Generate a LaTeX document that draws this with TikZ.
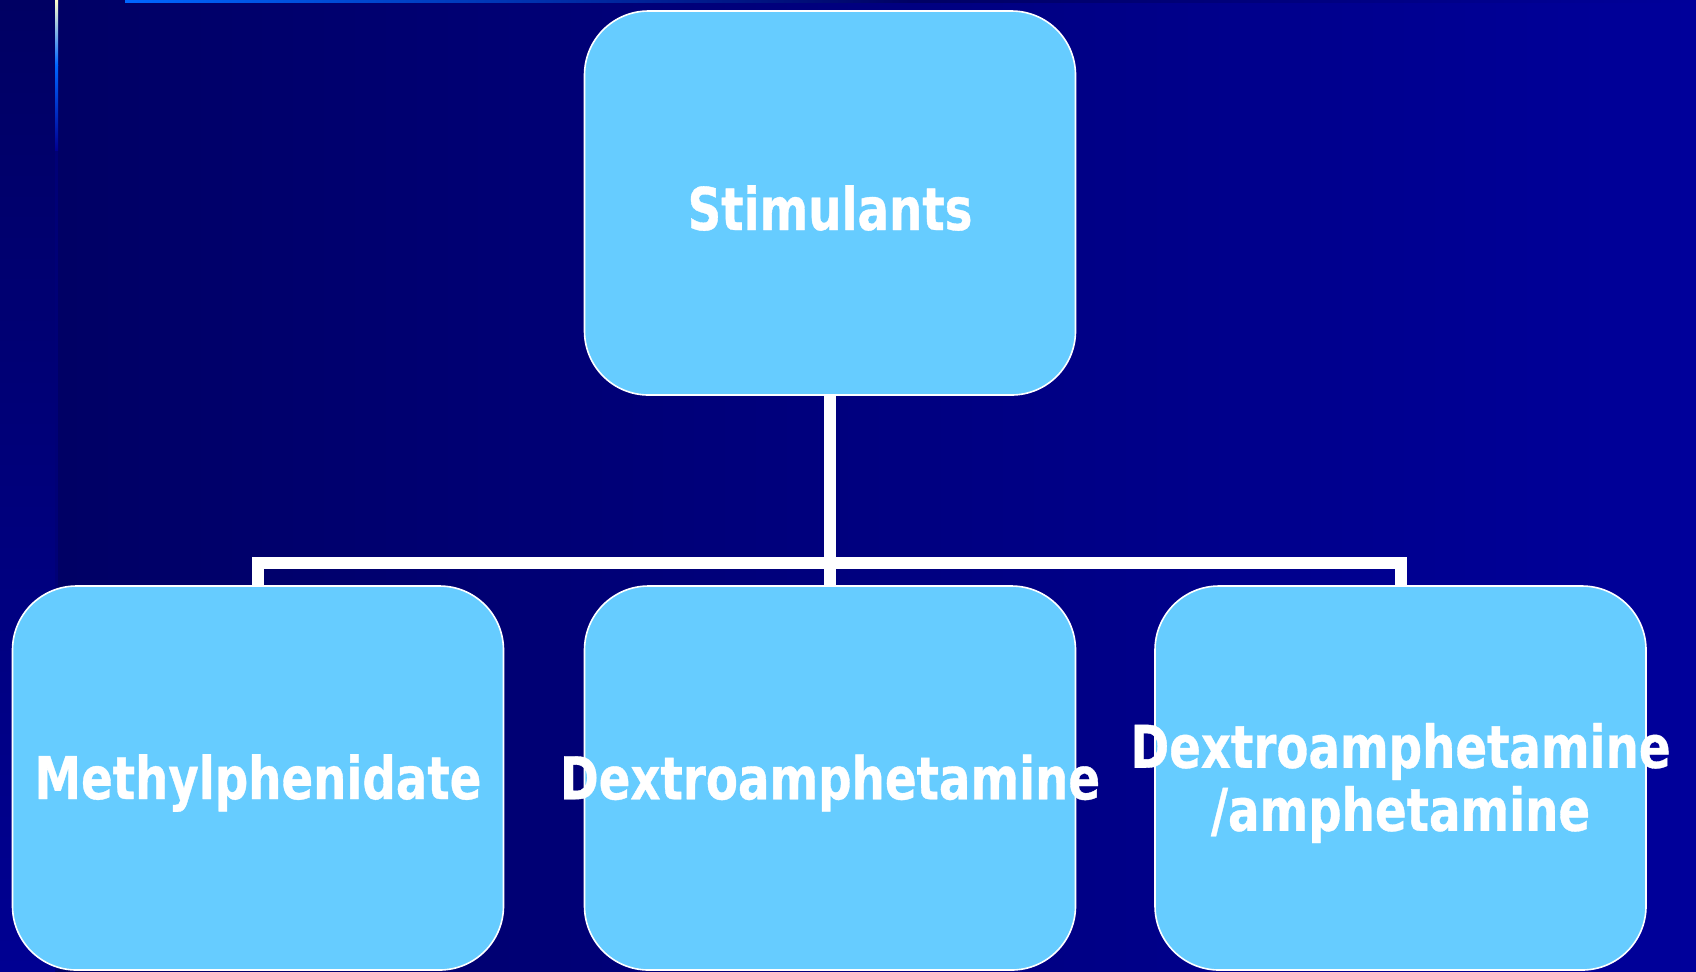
\documentclass[tikz,border=0pt]{standalone}
\usepackage{fontspec}
\newfontfamily\lbl{DejaVu Sans Condensed Bold}[FakeStretch=0.88, FakeBold=0.6]
\definecolor{bgdark}{HTML}{000063}
\definecolor{bgright}{HTML}{00009A}
\definecolor{stripbot}{HTML}{000092}
\definecolor{boxfill}{HTML}{66CCFF}
\definecolor{linecream}{HTML}{FFFFCC}
\definecolor{lineblue}{HTML}{0066FF}
\tikzset{
  box/.style={draw=white, line width=0.8pt, fill=boxfill, rounded corners=32pt,
    minimum width=245.5pt, minimum height=192pt, inner sep=0pt},
  txt/.style={text=white, font=\lbl\fontsize{29.5}{31.5}\selectfont, align=center, inner sep=0pt, yshift=-2.5pt},
  conn/.style={draw=white, line width=6pt, line join=miter, line cap=butt}
}
\begin{document}
\begin{tikzpicture}[x=0.5pt, y=-0.5pt]
\useasboundingbox (0,0) rectangle (1696,971);
% background
\fill[left color=bgdark, right color=bgright] (0,0) rectangle (1696,971);
\fill[top color=bgdark, bottom color=stripbot] (0,0) rectangle (55,971);
\fill[bgdark!60!stripbot] (55,150) rectangle (58,971);
\fill[top color=linecream, bottom color=lineblue] (55,0) rectangle (58,65);
\fill[top color=lineblue, bottom color=stripbot] (55,65) rectangle (58,150);
\fill[left color=lineblue, right color=bgright, middle color=bgdark] (125,0) rectangle (1696,2);
% boxes
\node[box] (s) at (830,203) {};
\node[box] (b1) at (258,778) {};
\node[box] (b2) at (830,778) {};
\node[box] (b3) at (1400.5,778) {};
\coordinate (bus) at (830,563);
% connectors
\draw[conn] (s.south) -- (b2.north);
\draw[conn] (b1.north) |- (bus) -| (b3.north);
% labels
\node[txt] (ts) at (s.center) {Stimulants};
\node[txt] (t1) at (b1.center) {Methylphenidate};
\node[txt] (t2) at (b2.center) {Dextroamphetamine};
\node[txt] (t3) at (b3.center) {Dextroamphetamine\\/amphetamine};
\end{tikzpicture}
\end{document}
